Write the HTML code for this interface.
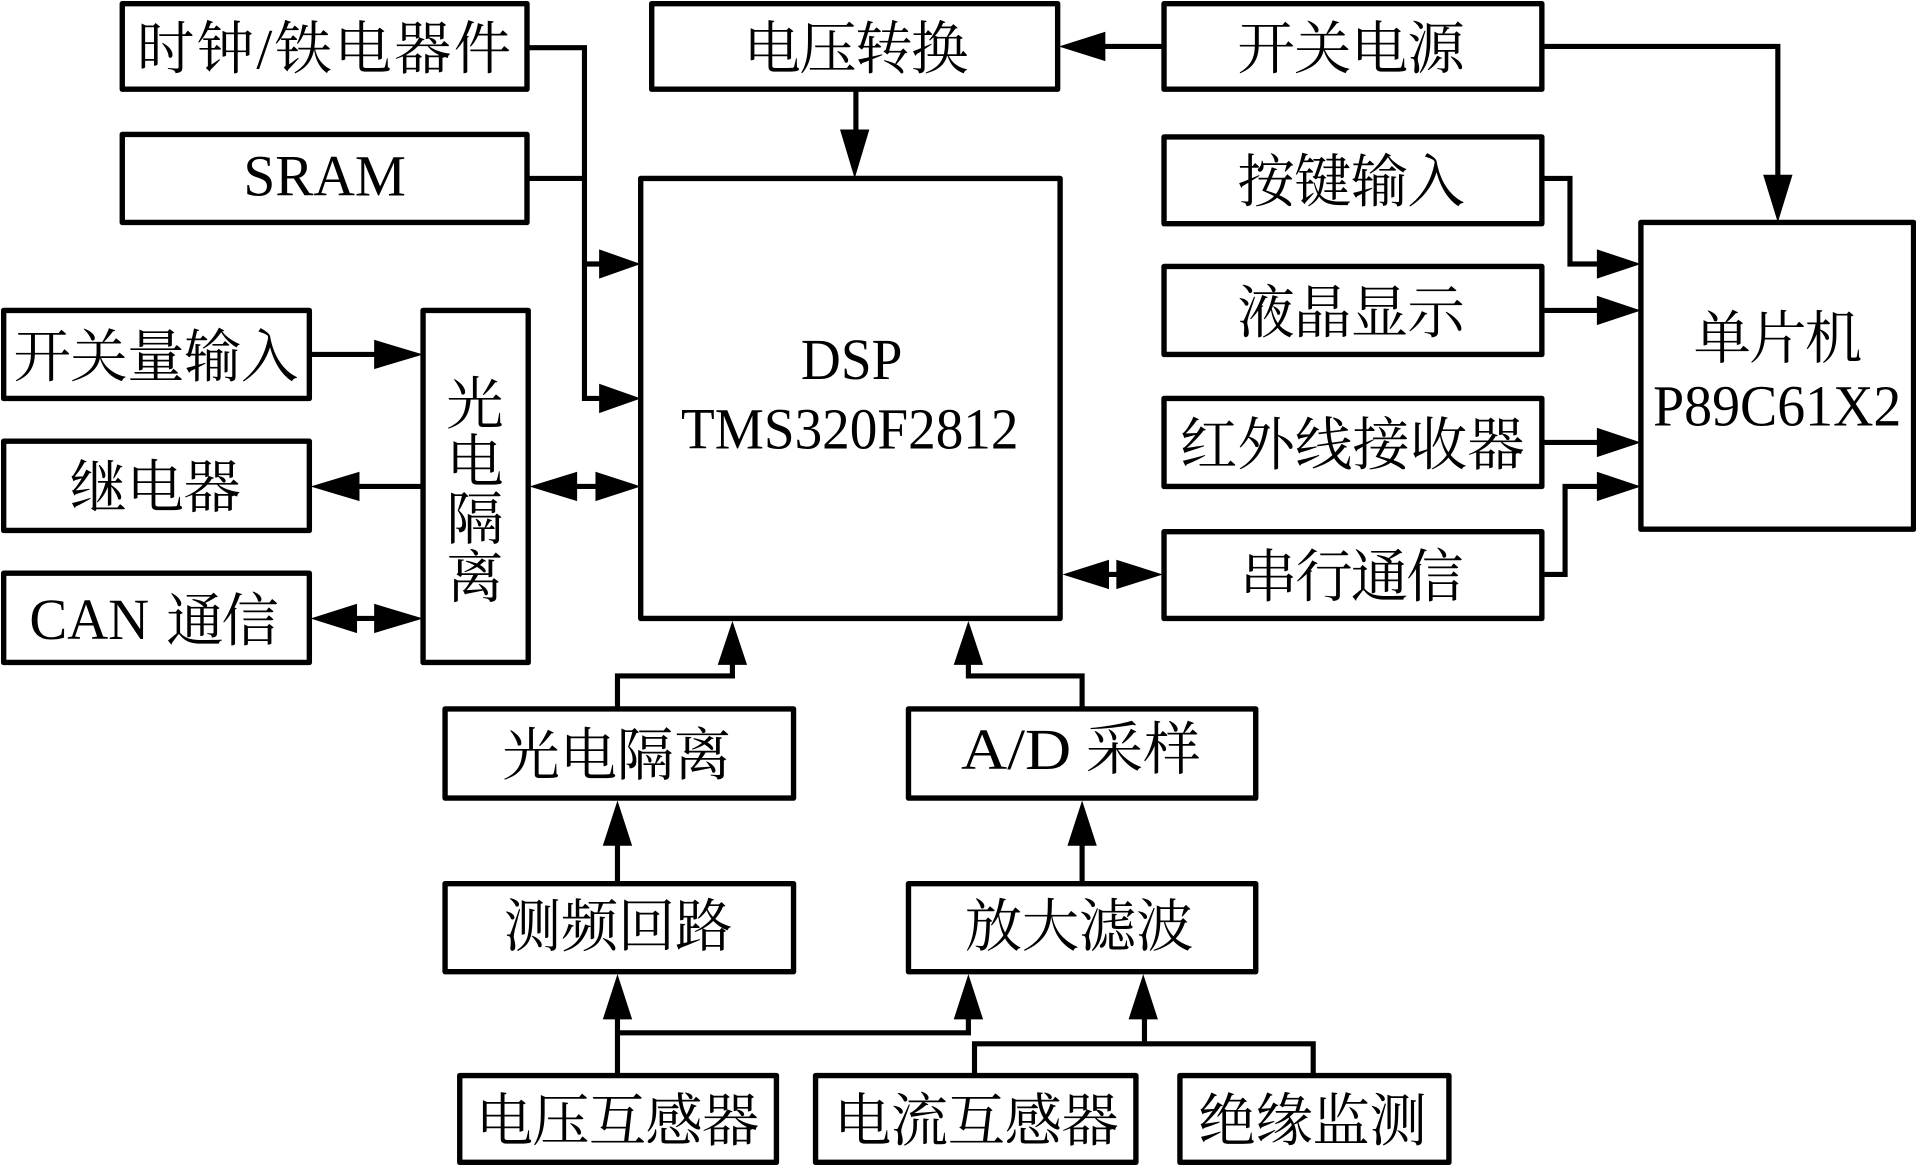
<!DOCTYPE html>
<html lang="zh">
<head>
<meta charset="utf-8">
<title>DSP TMS320F2812 系统框图</title>
<style>
html,body{margin:0;padding:0;background:#fff;width:1916px;height:1166px;overflow:hidden}
svg{display:block}
text{font-family:"Liberation Serif","Noto Serif CJK SC",serif;fill:#000;font-size:47px}
.l{font-size:48px}
rect{fill:#fff;stroke:#000;stroke-width:4.4;stroke-linejoin:round}
.w{fill:none;stroke:#000;stroke-width:4.2;stroke-linejoin:miter}
polygon{fill:#000;stroke:none}
</style>
</head>
<body>
<svg width="1916" height="1166" viewBox="0 0 1567 954" preserveAspectRatio="none" xmlns="http://www.w3.org/2000/svg">
<!-- connectors -->
<path class="w" d="M431 39H478V326H500M431 146H478M478 216H500"/>
<path class="w" d="M253 290H320M346 398H280M280 506H320M460 398H500"/>
<path class="w" d="M700 73V120M952 38H895M1261 38H1454V155"/>
<path class="w" d="M1261 146H1284V216H1315M1261 254H1315M1261 362H1315M1261 470H1280V398H1315"/>
<path class="w" d="M895 470H925"/>
<path class="w" d="M505 580V553H599V535M885 580V553H792V535"/>
<path class="w" d="M505 723V680M885 723V680"/>
<path class="w" d="M505 880V822M505 845H792V822M936 854V822M797 880V854H1074V880"/>
<!-- arrowheads -->
<polygon points="524,216 490,204 490,228"/>
<polygon points="524,326 490,314 490,338"/>
<polygon points="346,290 306,278 306,302"/>
<polygon points="254,398 294,386 294,410"/>
<polygon points="254,506 292,494 292,518"/>
<polygon points="346,506 306,494 306,518"/>
<polygon points="433,398 472,386 472,410"/>
<polygon points="524,398 487,386 487,410"/>
<polygon points="699,146 687,106 711,106"/>
<polygon points="866,38 904,26 904,50"/>
<polygon points="1454,182 1442,143 1466,143"/>
<polygon points="1342,216 1306,204 1306,228"/>
<polygon points="1342,254 1306,242 1306,266"/>
<polygon points="1342,362 1306,350 1306,374"/>
<polygon points="1342,398 1306,386 1306,410"/>
<polygon points="869,470 907,458 907,482"/>
<polygon points="951,470 913,458 913,482"/>
<polygon points="599,508 587,544 611,544"/>
<polygon points="792,508 780,544 804,544"/>
<polygon points="505,655 493,692 517,692"/>
<polygon points="885,655 873,692 897,692"/>
<polygon points="505,797 493,834 517,834"/>
<polygon points="792,797 780,834 804,834"/>
<polygon points="935,797 923,834 947,834"/>
<!-- boxes -->
<rect x="100" y="3" width="331" height="70"/>
<rect x="100" y="110" width="331" height="72"/>
<rect x="3" y="254" width="250" height="72"/>
<rect x="3" y="361" width="250" height="73"/>
<rect x="3" y="469" width="250" height="73"/>
<rect x="346" y="254" width="86" height="288"/>
<rect x="524" y="146" width="343" height="360"/>
<rect x="533" y="3" width="332" height="70"/>
<rect x="952" y="3" width="309" height="70"/>
<rect x="952" y="112" width="309" height="71"/>
<rect x="952" y="218" width="309" height="72"/>
<rect x="952" y="326" width="309" height="72"/>
<rect x="952" y="435" width="309" height="71"/>
<rect x="1342" y="182" width="223" height="251"/>
<rect x="364" y="580" width="285" height="73"/>
<rect x="743" y="580" width="284" height="73"/>
<rect x="364" y="723" width="285" height="72"/>
<rect x="743" y="723" width="284" height="72"/>
<rect x="376" y="880" width="259" height="71"/>
<rect x="667" y="880" width="262" height="71"/>
<rect x="965" y="880" width="220" height="71"/>
<!-- labels -->
<text x="112" y="56" textLength="306" lengthAdjust="spacing">时钟/铁电器件</text>
<text class="l" x="199" y="160" textLength="133" lengthAdjust="spacingAndGlyphs">SRAM</text>
<text x="11" y="308" textLength="233" lengthAdjust="spacing">开关量输入</text>
<text x="57" y="415" textLength="140" lengthAdjust="spacing">继电器</text>
<text class="l" x="24" y="523" textLength="98" lengthAdjust="spacingAndGlyphs">CAN</text>
<text x="136" y="524" textLength="92" lengthAdjust="spacing">通信</text>
<text x="365" y="347">光</text>
<text x="365" y="394">电</text>
<text x="365" y="441">隔</text>
<text x="365" y="489">离</text>
<text class="l" x="655" y="310" textLength="83" lengthAdjust="spacingAndGlyphs">DSP</text>
<text class="l" x="557" y="367" textLength="276" lengthAdjust="spacingAndGlyphs">TMS320F2812</text>
<text x="608" y="56" textLength="184" lengthAdjust="spacing">电压转换</text>
<text x="1012" y="56" textLength="186" lengthAdjust="spacing">开关电源</text>
<text x="1012" y="165" textLength="186" lengthAdjust="spacing">按键输入</text>
<text x="1012" y="272" textLength="186" lengthAdjust="spacing">液晶显示</text>
<text x="965" y="380" textLength="282" lengthAdjust="spacing">红外线接收器</text>
<text x="1014" y="488" textLength="183" lengthAdjust="spacing">串行通信</text>
<text x="1385" y="293" textLength="138" lengthAdjust="spacing">单片机</text>
<text class="l" x="1352" y="348" textLength="203" lengthAdjust="spacingAndGlyphs">P89C61X2</text>
<text x="411" y="634" textLength="187" lengthAdjust="spacing">光电隔离</text>
<text class="l" x="786" y="629" textLength="90" lengthAdjust="spacingAndGlyphs">A/D</text>
<text x="888" y="629" textLength="94" lengthAdjust="spacing">采样</text>
<text x="412" y="774" textLength="187" lengthAdjust="spacing">测频回路</text>
<text x="789" y="774" textLength="187" lengthAdjust="spacing">放大滤波</text>
<text x="389" y="933" textLength="232" lengthAdjust="spacing">电压互感器</text>
<text x="682" y="933" textLength="233" lengthAdjust="spacing">电流互感器</text>
<text x="980" y="933" textLength="187" lengthAdjust="spacing">绝缘监测</text>
</svg>
</body>
</html>
